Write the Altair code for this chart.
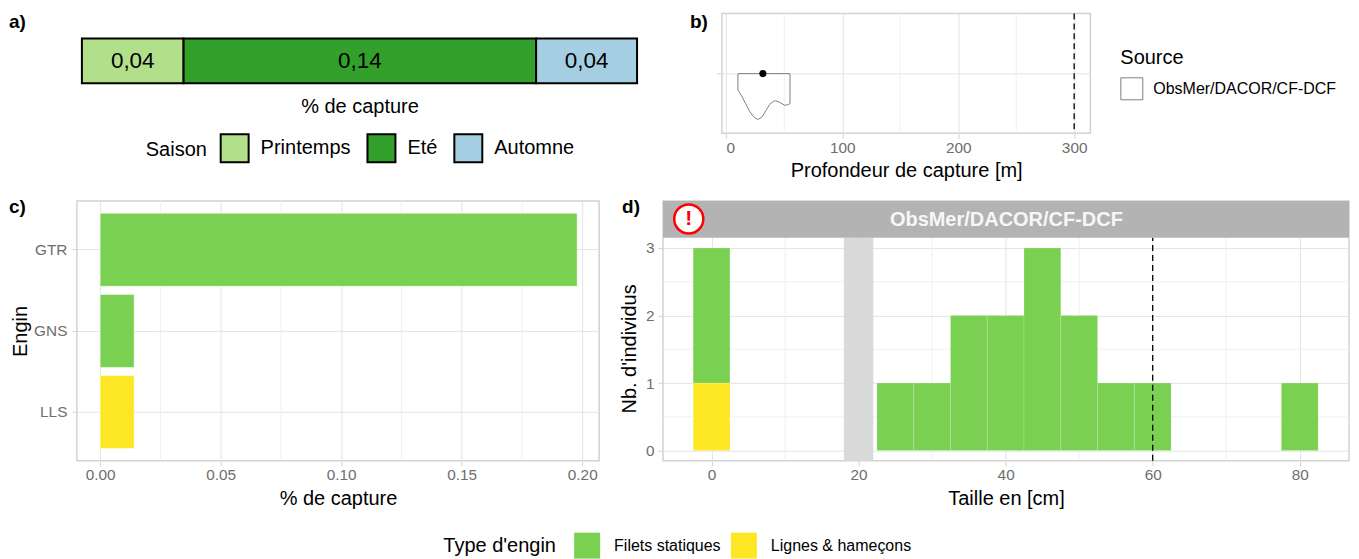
import altair as alt
import pandas as pd

FONT = "Liberation Sans"
GRID_MAJOR = "#e4e4e4"
GRID_MINOR = "#f0f0f0"
FRAME = "#d2d2d2"
TICKLAB = "#6e6e6e"
TITLE_SIZE = 20
TICK_SIZE = 15.4

# a) seasons
seasons = ["Printemps", "Eté", "Automne"]
season_values = [0.0407, 0.1411, 0.0404]
season_labels = ["0,04", "0,14", "0,04"]
season_colors = ["#B2DF8A", "#33A02C", "#A6CEE3"]

# b) depth
depth_ticks = [0, 100, 200, 300]
depth_minor = [50, 150, 250]
depth_outline = [10, 10, 13.2, 16.7, 20.1, 23.6, 27, 30.5, 34, 37.4, 40.9, 42.6, 46, 50.3, 52.9, 54.9, 54.9, 10]
density_outline = [0, 16.6, 22.3, 30.3, 37.8, 43.3, 46, 43.8, 37.3, 30.8, 27.6, 27.3, 28.8, 31.6, 31.3, 30, 0, 0]
depth_obs = [31.5]
depth_limit = [300]
source_name = "ObsMer/DACOR/CF-DCF"

# c) gears
gears = ["GTR", "GNS", "LLS"]
gear_share = [0.1979, 0.0141, 0.0141]
gear_type = ["Filets statiques", "Filets statiques", "Lignes & hameçons"]
gear_types = ["Filets statiques", "Lignes & hameçons"]
gear_colors = ["#7AD151", "#FDE725"]
share_ticks = [0.0, 0.05, 0.10, 0.15, 0.20]
share_minor = [0.025, 0.075, 0.125, 0.175]

# d) sizes
size_center = [0, 0, 25, 30, 35, 40, 45, 50, 55, 60, 80]
size_base = [0, 1, 0, 0, 0, 0, 0, 0, 0, 0, 0]
size_top = [1, 3, 1, 1, 2, 2, 3, 2, 1, 1, 1]
size_type = ["Lignes & hameçons"] + ["Filets statiques"] * 10
size_gap = [18, 22]
size_limit = [60]
size_ticks = [0, 20, 40, 60, 80]
size_minor = [10, 30, 50, 70]
count_ticks = [0, 1, 2, 3]
count_minor = [0.5, 1.5, 2.5]
strip_range = [3.15, 3.694]


def tag(label, x, y):
    return alt.Chart(pd.DataFrame({"t": [label]})).mark_text(
        font=FONT, fontSize=19, fontWeight="bold", align="left", baseline="middle", color="black"
    ).encode(text="t:N", x=alt.value(x), y=alt.value(y))


def vrules(vals, scale, color=GRID_MINOR):
    return alt.Chart(pd.DataFrame({"v": vals})).mark_rule(color=color, strokeWidth=1).encode(
        x=alt.X("v:Q", scale=scale))


def hrules(vals, scale, color=GRID_MINOR):
    return alt.Chart(pd.DataFrame({"v": vals})).mark_rule(color=color, strokeWidth=1).encode(
        y=alt.Y("v:Q", scale=scale))


def axis(**kw):
    base = dict(labelFont=FONT, titleFont=FONT, labelColor=TICKLAB, labelFontSize=TICK_SIZE,
                titleFontSize=TITLE_SIZE, titleColor="black", titleFontWeight="normal",
                tickColor=FRAME, tickSize=5, domain=False, gridColor=GRID_MAJOR, labelPadding=2)
    base.update(kw)
    return alt.Axis(**base)


# ---------- a ----------
df_a = pd.DataFrame({"s": seasons, "v": season_values, "lab": season_labels})
df_a["start"] = df_a["v"].cumsum() - df_a["v"]
df_a["end"] = df_a["v"].cumsum()
df_a["mid"] = (df_a["start"] + df_a["end"]) / 2
df_a["y0"] = 0
df_a["y1"] = 1
df_a["ym"] = 0.5
sx_a = alt.Scale(domain=[-0.002, 0.2222], nice=False, zero=False)
sy_a = alt.Scale(domain=[-1.111, 1.556], nice=False, zero=False)
a_rect = alt.Chart(df_a).mark_rect(stroke="black", strokeWidth=2).encode(
    x=alt.X("start:Q", scale=sx_a, axis=alt.Axis(
        title="% de capture", titleFont=FONT, titleFontSize=TITLE_SIZE, titleFontWeight="normal",
        titleColor="black", labels=False, ticks=False, domain=False, grid=False, titleX=283, titleY=-27,
        titleBaseline="middle")),
    x2="end:Q",
    y=alt.Y("y0:Q", scale=sy_a, axis=None),
    y2="y1:Q",
    color=alt.Color("s:N", scale=alt.Scale(domain=seasons, range=season_colors), legend=alt.Legend(
        title="Saison", orient="none", legendX=69, legendY=120, direction="horizontal", columns=3,
        titleOrient="left", titleFont=FONT, titleFontSize=TITLE_SIZE, titleFontWeight="normal", titleColor="black",
        titlePadding=12, labelFont=FONT, labelFontSize=TITLE_SIZE, labelColor="black",
        symbolType="square", symbolSize=784, symbolStrokeWidth=2, symbolStrokeColor="black",
        labelOffset=11, columnPadding=12, symbolOpacity=1, labelLimit=300)),
)
a_text = alt.Chart(df_a).mark_text(font=FONT, fontSize=22.5, color="black").encode(
    x=alt.X("mid:Q", scale=sx_a), y=alt.Y("ym:Q", scale=sy_a, axis=None), text="lab:N")
panel_a = alt.layer(a_rect, a_text, tag("a)", -68, 9)).properties(
    width=561, height=120, view=alt.ViewBackground(stroke=None))

# ---------- b ----------
sx_b = alt.Scale(domain=[-3.8, 314], nice=False, zero=False)
sy_b = alt.Scale(domain=[59.7, -60.3], nice=False, zero=False)
df_b = pd.DataFrame({"d": depth_outline, "p": density_outline, "i": range(len(depth_outline)),
                     "src": [source_name] * len(depth_outline)})
b_axis = alt.Chart(pd.DataFrame({"v": depth_ticks, "z": [0] * 4})).mark_rule(opacity=0).encode(
    x=alt.X("v:Q", scale=sx_b, axis=axis(title="Profondeur de capture [m]", values=depth_ticks, grid=True,
                                        labelOffset={"condition": {"test": "datum.value == 0", "value": 4}, "value": 0},
                                        titlePadding=5)),
    y=alt.Y("z:Q", scale=sy_b, axis=axis(title=None, values=[0], labels=False, grid=True)),
)
b_line = alt.Chart(df_b).mark_line(strokeWidth=1, interpolate="linear").encode(
    x=alt.X("d:Q", scale=sx_b),
    y=alt.Y("p:Q", scale=sy_b),
    order="i:Q",
    stroke=alt.Stroke("src:N", scale=alt.Scale(domain=[source_name], range=["#7f7f7f"]), legend=alt.Legend(
        title="Source", orient="none", legendX=399, legendY=35, titleFont=FONT, titleFontSize=TITLE_SIZE,
        titleFontWeight="normal", titleColor="black", titlePadding=9, labelFont=FONT, labelFontSize=16,
        labelColor="black", symbolType="square", symbolSize=484, symbolStrokeWidth=1, symbolFillColor="white",
        labelOffset=10, labelLimit=300)),
)
b_dot = alt.Chart(pd.DataFrame({"d": depth_obs, "y": [0]})).mark_point(
    filled=True, color="black", size=50, opacity=1).encode(
    x=alt.X("d:Q", scale=sx_b), y=alt.Y("y:Q", scale=sy_b))
b_lim = alt.Chart(pd.DataFrame({"d": depth_limit})).mark_rule(color="black", strokeWidth=1.3, strokeDash=[6, 4]).encode(
    x=alt.X("d:Q", scale=sx_b))
panel_b = alt.layer(b_axis, vrules(depth_minor, sx_b), b_line, b_dot, b_lim, tag("b)", -32, 9)).properties(
    width=369, height=120)

# ---------- c ----------
df_c = pd.DataFrame({"g": gears, "v": gear_share, "t": gear_type})
sx_c = alt.Scale(domain=[-0.00965, 0.207], nice=False, zero=False)
c_bar = alt.Chart(df_c).mark_bar(stroke="white", strokeWidth=0.5).encode(
    x=alt.X("v:Q", scale=sx_c, axis=axis(title="% de capture", values=share_ticks, format=".2f", grid=True, titlePadding=5)),
    y=alt.Y("g:N", sort=gears, scale=alt.Scale(paddingInner=0.1, paddingOuter=0.15),
            axis=axis(title="Engin", grid=True, labelPadding=5, titlePadding=3)),
    color=alt.Color("t:N", scale=alt.Scale(domain=gear_types, range=gear_colors), legend=alt.Legend(
        title="Type d'engin", orient="none", legendX=367, legendY=332, direction="horizontal", columns=2,
        titleOrient="left", titleFont=FONT, titleFontSize=TITLE_SIZE, titleFontWeight="normal", titleColor="black",
        titlePadding=18, labelFont=FONT, labelFontSize=16, labelColor="black",
        symbolType="square", symbolSize=676, symbolStrokeWidth=0, labelOffset=14, columnPadding=10, symbolOpacity=1,
        labelLimit=300)),
)
panel_c = alt.layer(vrules(share_minor, sx_c), c_bar, tag("c)", -68, 6)).properties(width=523, height=260)

# ---------- d ----------
df_d = pd.DataFrame({"c": size_center, "b": size_base, "e": size_top, "t": size_type})
df_d["x0"] = df_d["c"] - 2.5
df_d["x1"] = df_d["c"] + 2.5
sx_d = alt.Scale(domain=[-6.6, 86.7], nice=False, zero=False)
sy_d = alt.Scale(domain=[-0.15, strip_range[1]], nice=False, zero=False)
d_axis = alt.Chart(pd.DataFrame({"v": size_ticks[:4], "y": count_ticks})).mark_rule(opacity=0).encode(
    x=alt.X("v:Q", scale=sx_d, axis=axis(title="Taille en [cm]", values=size_ticks, grid=True, titlePadding=5)),
    y=alt.Y("y:Q", scale=sy_d, axis=axis(title="Nb. d'individus", values=count_ticks, format="d", grid=True,
                                         labelPadding=4, titleY=147.5, titlePadding=6)),
)
d_gap = alt.Chart(pd.DataFrame({"a": [size_gap[0]], "b": [size_gap[1]], "y0": [-0.15], "y1": [strip_range[0]]})).mark_rect(
    color="#D9D9D9").encode(
    x=alt.X("a:Q", scale=sx_d), x2="b:Q", y=alt.Y("y0:Q", scale=sy_d), y2="y1:Q")
d_bar = alt.Chart(df_d).mark_rect(stroke="white", strokeWidth=0.5, strokeOpacity=0.3).encode(
    x=alt.X("x0:Q", scale=sx_d), x2="x1:Q",
    y=alt.Y("b:Q", scale=sy_d), y2="e:Q",
    color=alt.Color("t:N", scale=alt.Scale(domain=gear_types, range=gear_colors), legend=None),
)
d_lim = alt.Chart(pd.DataFrame({"d": size_limit, "y0": [-0.15], "y1": [strip_range[0]]})).mark_rule(
    color="black", strokeWidth=1.3, strokeDash=[6, 4]).encode(
    x=alt.X("d:Q", scale=sx_d), y=alt.Y("y0:Q", scale=sy_d), y2="y1:Q")
d_strip = alt.Chart(pd.DataFrame({"x0": [-6.6], "x1": [86.7], "y0": [strip_range[0]], "y1": [strip_range[1]]})).mark_rect(
    color="#B3B3B3").encode(
    x=alt.X("x0:Q", scale=sx_d), x2="x1:Q", y=alt.Y("y0:Q", scale=sy_d), y2="y1:Q")
d_strip_text = alt.Chart(pd.DataFrame({"x": [40.1], "y": [3.42], "t": [source_name]})).mark_text(
    font=FONT, fontSize=20, fontWeight="bold", color="white", opacity=0.9).encode(
    x=alt.X("x:Q", scale=sx_d), y=alt.Y("y:Q", scale=sy_d), text="t:N")
d_warn = alt.Chart(pd.DataFrame({"x": [-3.1], "y": [3.43]})).mark_point(
    filled=True, fill="white", stroke="#FF0000", strokeWidth=2.5, size=850, opacity=1, shape="circle").encode(
    x=alt.X("x:Q", scale=sx_d), y=alt.Y("y:Q", scale=sy_d))
d_warn_text = alt.Chart(pd.DataFrame({"x": [-3.1], "y": [3.43], "t": ["!"]})).mark_text(
    font=FONT, fontSize=21, fontWeight="bold", color="#FF0000").encode(
    x=alt.X("x:Q", scale=sx_d), y=alt.Y("y:Q", scale=sy_d), text="t:N")
panel_d = alt.layer(d_axis, vrules(size_minor, sx_d), hrules(count_minor, sy_d), d_gap, d_bar, d_lim, d_strip,
                    d_strip_text, d_warn, d_warn_text, tag("d)", -41, 6)).properties(width=687, height=260)

row1 = alt.hconcat(panel_a, panel_b, spacing=85, bounds="flush").resolve_scale(color="independent", stroke="independent")
row2 = alt.hconcat(panel_c, panel_d, spacing=64, bounds="flush").resolve_scale(color="independent")
chart = alt.vconcat(row1, row2, spacing=188, bounds="flush").resolve_scale(color="independent", stroke="independent").properties(
    padding={"left": 0, "top": 3, "right": 0, "bottom": 0}, background="white"
).configure_view(stroke=FRAME, strokeWidth=1.5)

chart.save("out.html", embed_options={"renderer": "svg", "actions": False})
